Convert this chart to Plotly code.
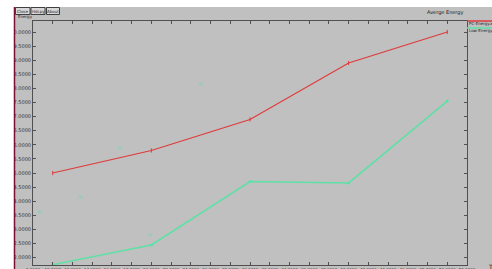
import plotly.graph_objects as go

# ---- data ----
x_vals = [10, 20, 30, 40, 50]
pc_energy = [95.0, 95.8, 96.9, 98.9, 100.0]
low_energy = [91.75, 92.45, 94.7, 94.65, 97.55]
ghost_x = [8.7, 12.8, 16.8, 19.9, 25.0]
ghost_y = [93.62, 94.15, 95.89, 92.8, 98.16]
series_names = ["PC-Energy.xg", "Low-Energy.xg"]
title_text = "Averge Energy"
y_label = "Energy"
x_label = "Time"
buttons = ["Close", "Hdcpy", "About"]

W, H = 492, 269
L, R, T, B = 33, 467, 21, 265

def px(x):
    return (x - L) / (R - L)

def py(y):
    return (B - y) / (B - T)

RED = "#e03a3a"
GREEN = "#5ee0a6"
BG = "#c0c0c0"
FONT = "DejaVu Sans"

fig = go.Figure()
fig.add_trace(go.Scatter(x=ghost_x, y=ghost_y, mode="markers",
                         marker=dict(color=GREEN, size=4, opacity=0.35),
                         showlegend=False, hoverinfo="skip"))
fig.add_trace(go.Scatter(x=x_vals, y=pc_energy, mode="lines+markers", name=series_names[0],
                         line=dict(color=RED, width=1.2),
                         marker=dict(color=RED, size=3, symbol="line-ns", line=dict(color=RED, width=1)),
                         showlegend=False))
fig.add_trace(go.Scatter(x=x_vals, y=low_energy, mode="lines+markers", name=series_names[1],
                         line=dict(color=GREEN, width=1.5),
                         marker=dict(color=GREEN, size=3),
                         showlegend=False))

shapes = []
annotations = []
# white strips (outside window)
shapes.append(dict(type="rect", xref="paper", yref="paper", x0=px(-5), x1=px(14), y0=py(-5), y1=py(275),
                   fillcolor="white", line=dict(width=0), layer="above"))
shapes.append(dict(type="rect", xref="paper", yref="paper", x0=px(-5), x1=px(500), y0=py(7), y1=py(-5),
                   fillcolor="white", line=dict(width=0), layer="above"))
# maroon window edge
shapes.append(dict(type="line", xref="paper", yref="paper", x0=px(14.5), x1=px(14.5), y0=py(7), y1=py(275),
                   line=dict(color="#7a1030", width=1.5), layer="above"))
# buttons
bx = [(15.5, 30), (31, 45), (46.5, 59.5)]
for (a, b), lab in zip(bx, buttons):
    shapes.append(dict(type="rect", xref="paper", yref="paper", x0=px(a), x1=px(b), y0=py(14.5), y1=py(7.5),
                       fillcolor="#d8d8d8", line=dict(color="#404040", width=1), layer="above"))
    annotations.append(dict(x=px((a + b) / 2), y=py(11), xref="paper", yref="paper", text=lab, showarrow=False,
                            font=dict(family=FONT, size=4, color="#202020"), xanchor="center", yanchor="middle"))
# legend lines
shapes.append(dict(type="line", xref="paper", yref="paper", x0=px(467), x1=px(495), y0=py(21), y1=py(21),
                   line=dict(color=RED, width=1.5), layer="above"))
shapes.append(dict(type="line", xref="paper", yref="paper", x0=px(467), x1=px(495), y0=py(28), y1=py(28),
                   line=dict(color=GREEN, width=1.5), layer="above"))
annotations.append(dict(x=px(467), y=py(23.5), xref="paper", yref="paper", text=series_names[0], showarrow=False,
                        font=dict(family=FONT, size=4, color="#202020"), xanchor="left", yanchor="middle"))
annotations.append(dict(x=px(467), y=py(30.5), xref="paper", yref="paper", text=series_names[1], showarrow=False,
                        font=dict(family=FONT, size=4, color="#202020"), xanchor="left", yanchor="middle"))
annotations.append(dict(x=px(445), y=py(12), xref="paper", yref="paper", text=title_text, showarrow=False,
                        font=dict(family=FONT, size=5, color="#202020"), xanchor="center", yanchor="middle"))
annotations.append(dict(x=px(16), y=py(17), xref="paper", yref="paper", text=y_label, showarrow=False,
                        font=dict(family=FONT, size=4, color="#202020"), xanchor="left", yanchor="middle"))
annotations.append(dict(x=px(486), y=py(266), xref="paper", yref="paper", text=x_label, showarrow=False,
                        font=dict(family=FONT, size=6, color="#202020"), xanchor="left", yanchor="middle"))

fig.update_layout(
    width=W, height=H,
    margin=dict(l=L, r=W - R, t=T, b=H - B, pad=0, autoexpand=False),
    paper_bgcolor=BG, plot_bgcolor=BG,
    shapes=shapes, annotations=annotations,
    xaxis=dict(range=[8, 52], dtick=2, tick0=0, tickformat=".4f", showgrid=False, zeroline=False,
               automargin=False, tickangle=0,
               ticks="inside", ticklen=3, tickcolor="#505050", showline=True, linecolor="#505050",
               linewidth=1, mirror="ticks", tickfont=dict(family=FONT, size=4, color="#303030")),
    yaxis=dict(range=[91.74, 100.39], dtick=0.5, tick0=0, tickformat=".4f", showgrid=False, zeroline=False,
               automargin=False,
               ticks="inside", ticklen=3, tickcolor="#505050", showline=True, linecolor="#505050",
               linewidth=1, mirror="ticks", tickfont=dict(family=FONT, size=5, color="#303030")),
)

fig.write_html("out.html", config={"displayModeBar": False},
               post_script="document.body.style.margin='0';document.body.style.overflow='hidden';")
